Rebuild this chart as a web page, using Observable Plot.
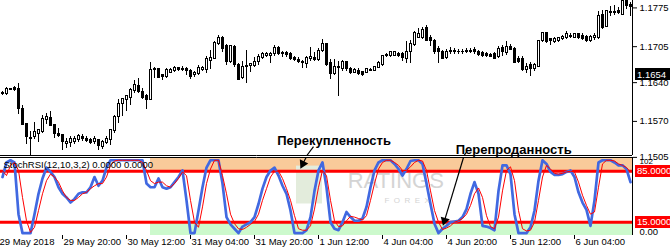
<!DOCTYPE html>
<html><head><meta charset="utf-8">
<script src="https://cdn.jsdelivr.net/npm/d3@7"></script>
<script src="https://cdn.jsdelivr.net/npm/@observablehq/plot@0.6"></script>
<style>
html,body{margin:0;padding:0;background:#fff;}
#chart{position:relative;width:670px;height:251px;overflow:hidden;background:#fff;}
#chart svg{display:block;position:absolute;left:0;}
</style></head><body><div id="chart"></div>
<script>
// ---- EURUSD H1 candles ----
const open = [1.1620,1.1620,1.1626,1.1631,1.1629,1.1593,1.1565,1.1539,1.1541,1.1547,
1.1551,1.1573,1.1576,1.1563,1.1548,1.1546,1.1529,1.1531,1.1533,1.1536,
1.1542,1.1538,1.1537,1.1533,1.1537,1.1523,1.1531,1.1537,1.1553,1.1578,
1.1601,1.1609,1.1613,1.1625,1.1634,1.1623,1.1616,1.1608,1.1663,1.1665,
1.1653,1.1651,1.1658,1.1661,1.1667,1.1665,1.1665,1.1661,1.1653,1.1655,
1.1663,1.1663,1.1680,1.1683,1.1709,1.1720,1.1707,1.1677,1.1705,1.1671,
1.1648,1.1668,1.1670,1.1670,1.1677,1.1684,1.1689,1.1689,1.1691,1.1703,
1.1693,1.1693,1.1691,1.1685,1.1681,1.1678,1.1673,1.1683,1.1684,1.1681,
1.1698,1.1709,1.1675,1.1656,1.1667,1.1665,1.1678,1.1665,1.1658,1.1661,
1.1659,1.1658,1.1661,1.1661,1.1667,1.1671,1.1688,1.1688,1.1689,1.1691,
1.1691,1.1683,1.1695,1.1708,1.1721,1.1721,1.1738,1.1721,1.1715,1.1701,
1.1696,1.1685,1.1696,1.1695,1.1695,1.1696,1.1695,1.1698,1.1699,1.1695,
1.1693,1.1691,1.1690,1.1691,1.1686,1.1703,1.1693,1.1705,1.1701,1.1683,
1.1683,1.1663,1.1671,1.1665,1.1669,1.1715,1.1729,1.1718,1.1713,1.1715,
1.1719,1.1720,1.1723,1.1721,1.1727,1.1725,1.1723,1.1715,1.1720,1.1721,
1.1763,1.1741,1.1766,1.1765,1.1769,1.1763,1.1789,1.1781];
const high = [1.1624,1.1631,1.1630,1.1633,1.1638,1.1598,1.1566,1.1551,1.1568,1.1556,
1.1580,1.1585,1.1588,1.1565,1.1558,1.1547,1.1539,1.1543,1.1543,1.1546,
1.1547,1.1543,1.1539,1.1543,1.1538,1.1535,1.1543,1.1556,1.1581,1.1610,
1.1611,1.1617,1.1629,1.1643,1.1647,1.1629,1.1619,1.1676,1.1667,1.1666,
1.1655,1.1665,1.1666,1.1669,1.1668,1.1669,1.1667,1.1663,1.1660,1.1671,
1.1669,1.1688,1.1698,1.1715,1.1725,1.1723,1.1709,1.1708,1.1708,1.1675,
1.1678,1.1698,1.1675,1.1685,1.1691,1.1695,1.1695,1.1695,1.1707,1.1705,
1.1696,1.1696,1.1695,1.1687,1.1685,1.1680,1.1688,1.1703,1.1695,1.1701,
1.1718,1.1711,1.1681,1.1681,1.1678,1.1680,1.1679,1.1667,1.1665,1.1665,
1.1661,1.1666,1.1665,1.1669,1.1678,1.1689,1.1693,1.1696,1.1696,1.1695,
1.1695,1.1715,1.1716,1.1733,1.1738,1.1739,1.1743,1.1725,1.1718,1.1705,
1.1698,1.1700,1.1703,1.1701,1.1700,1.1700,1.1701,1.1701,1.1703,1.1698,
1.1696,1.1695,1.1693,1.1695,1.1705,1.1708,1.1715,1.1709,1.1703,1.1687,
1.1687,1.1675,1.1676,1.1675,1.1716,1.1731,1.1731,1.1720,1.1721,1.1721,
1.1725,1.1733,1.1729,1.1729,1.1729,1.1728,1.1725,1.1725,1.1728,1.1768,
1.1771,1.1771,1.1778,1.1780,1.1776,1.1796,1.1793,1.1785];
const low = [1.1617,1.1617,1.1625,1.1624,1.1583,1.1563,1.1528,1.1507,1.1537,1.1531,
1.1549,1.1565,1.1560,1.1539,1.1541,1.1517,1.1521,1.1523,1.1528,1.1531,
1.1533,1.1531,1.1528,1.1528,1.1517,1.1520,1.1528,1.1527,1.1549,1.1567,
1.1578,1.1588,1.1599,1.1620,1.1621,1.1610,1.1591,1.1607,1.1648,1.1648,
1.1643,1.1648,1.1656,1.1659,1.1661,1.1660,1.1653,1.1645,1.1650,1.1653,
1.1660,1.1657,1.1663,1.1681,1.1707,1.1695,1.1671,1.1675,1.1668,1.1643,
1.1645,1.1638,1.1658,1.1668,1.1671,1.1681,1.1685,1.1675,1.1688,1.1689,
1.1685,1.1685,1.1680,1.1678,1.1675,1.1665,1.1665,1.1678,1.1678,1.1678,
1.1695,1.1670,1.1645,1.1653,1.1615,1.1660,1.1661,1.1655,1.1656,1.1653,
1.1651,1.1657,1.1660,1.1660,1.1665,1.1669,1.1686,1.1685,1.1688,1.1686,
1.1678,1.1675,1.1675,1.1705,1.1719,1.1718,1.1715,1.1705,1.1691,1.1675,
1.1681,1.1681,1.1691,1.1691,1.1691,1.1691,1.1692,1.1693,1.1691,1.1688,
1.1685,1.1686,1.1685,1.1681,1.1683,1.1688,1.1689,1.1698,1.1675,1.1675,
1.1660,1.1656,1.1651,1.1661,1.1667,1.1713,1.1711,1.1708,1.1711,1.1713,
1.1716,1.1718,1.1720,1.1719,1.1718,1.1716,1.1713,1.1713,1.1717,1.1718,
1.1736,1.1740,1.1760,1.1761,1.1763,1.1761,1.1773,1.1760];
const close = [1.1621,1.1628,1.1628,1.1627,1.1593,1.1564,1.1541,1.1540,1.1550,1.1554,
1.1575,1.1578,1.1561,1.1548,1.1543,1.1533,1.1533,1.1538,1.1539,1.1543,
1.1539,1.1535,1.1531,1.1538,1.1526,1.1533,1.1539,1.1555,1.1578,1.1601,
1.1610,1.1615,1.1627,1.1636,1.1623,1.1613,1.1608,1.1663,1.1665,1.1649,
1.1651,1.1663,1.1663,1.1667,1.1663,1.1663,1.1661,1.1650,1.1658,1.1666,
1.1667,1.1683,1.1685,1.1711,1.1720,1.1701,1.1678,1.1707,1.1671,1.1645,
1.1669,1.1670,1.1673,1.1678,1.1686,1.1691,1.1691,1.1691,1.1703,1.1691,
1.1691,1.1690,1.1683,1.1681,1.1677,1.1675,1.1685,1.1686,1.1681,1.1698,
1.1709,1.1671,1.1656,1.1669,1.1669,1.1678,1.1665,1.1658,1.1663,1.1655,
1.1653,1.1665,1.1663,1.1668,1.1676,1.1688,1.1690,1.1695,1.1695,1.1689,
1.1685,1.1696,1.1709,1.1729,1.1728,1.1736,1.1716,1.1715,1.1695,1.1695,
1.1683,1.1695,1.1698,1.1697,1.1696,1.1695,1.1697,1.1695,1.1695,1.1690,
1.1688,1.1689,1.1687,1.1683,1.1701,1.1695,1.1705,1.1699,1.1676,1.1677,
1.1663,1.1669,1.1665,1.1671,1.1715,1.1729,1.1713,1.1715,1.1718,1.1720,
1.1723,1.1727,1.1725,1.1727,1.1720,1.1718,1.1715,1.1723,1.1725,1.1761,
1.1738,1.1769,1.1768,1.1768,1.1765,1.1788,1.1778,1.1776];

// ---- StochRSI(12,10,3,2) ----
const stochMain = [77,97,100,97,26,0,0,0,26,54,
75,90,84,77,63,54,49,42,47,54,
56,56,63,77,65,72,90,100,100,100,
100,100,100,100,100,100,68,63,63,75,
63,61,63,70,77,86,45,0,0,31,
63,90,100,100,100,68,22,12,6,0,
9,12,15,22,40,61,77,86,90,79,
65,54,31,0,0,0,4,22,58,86,
97,63,15,6,4,15,29,22,17,17,
20,36,63,86,97,100,100,100,95,88,
79,88,99,100,100,95,68,40,13,0,
6,10,15,16,17,22,33,54,70,54,
10,9,7,4,58,93,93,81,26,0,
0,0,8,31,72,100,95,84,80,80,
81,84,86,77,56,42,32,10,45,97,
100,100,100,97,93,93,88,70];
const stochSignal = [86,79,93,97,86,49,17,1,8,31,
54,72,81,77,70,58,49,45,45,49,
54,56,61,65,68,68,77,93,99,100,
100,100,100,100,100,97,86,72,68,70,
70,65,63,68,75,84,79,45,15,8,
36,68,88,100,100,79,54,26,13,6,
5,8,12,16,26,45,61,77,85,85,
75,61,45,24,6,4,4,10,33,63,
86,79,45,17,9,10,17,23,22,20,
18,24,45,68,88,97,100,100,97,93,
86,86,91,97,100,99,86,58,31,15,
5,7,10,15,17,20,26,38,54,62,
49,24,9,6,22,58,86,91,72,31,
6,3,4,15,45,77,93,88,82,81,
82,84,85,84,70,52,38,26,29,63,
95,100,100,99,95,93,90,84];

// ---- axes / labels ----
const priceTicks = [1.1505, 1.1570, 1.1640, 1.1705, 1.1775];
const currentPrice = 1.1654;
const timeTickBars = [-1, 15, 31, 47, 63, 79, 95, 111, 127, 143];
const timeTickLabels = ["29 May 2018","29 May 20:00","30 May 12:00","31 May 04:00","31 May 20:00",
  "1 Jun 12:00","4 Jun 04:00","4 Jun 20:00","5 Jun 12:00","6 Jun 04:00"];
const levels = [85, 15];
const levelLabels = ["85.0000", "15.0000"];
const oscMaxLabel = "102", oscMinLabel = "0.00";
const indicatorTitle = "StochRSI(12,10,3,2) 0.0000 0.0000";
const zoneStartBar = 37;

// ---- annotations ----
const noteText = ["Перекупленность", "Перепроданность"];
const noteBar = [82.9, 127.8];
const notePrice = [1.15344, 1.15184];
const arrowTopBar1 = [77.75, 116], arrowTopPrice1 = [1.15244, 1.15144];
const arrowTopBar2 = [76.1, 115.4];
const arrowBotBar1 = [75.9, 115.25], arrowBotVal1 = [103.8, 103.8];
const arrowBotBar2 = [75.08, 110.5], arrowBotVal2 = [95.2, 17.2];
const arrowAngle = [206.6, 196.8];
const watermark = ["RATINGS", "F  O  R  E  X"];

const FONT = "'Liberation Sans', Arial, sans-serif";
const xDomain = [-0.5, open.length - 0.5];
const priceDomain = [1.15084, 1.17884];
const oscDomain = [-3.25, 103.8];

const bars = open.map((o, i) => ({i, o, h: high[i], l: low[i], c: close[i]}));
const mainPts = stochMain.map((v, i) => ({i, v}));
const sigPts = stochSignal.map((v, i) => ({i, v}));
const notes = noteText.map((t, j) => ({t, x: noteBar[j], y: notePrice[j]}));
const topLinks = arrowTopBar1.map((x1, j) => ({x1, y1: arrowTopPrice1[j], x2: arrowTopBar2[j], y2: priceDomain[0]}));
const botLinks = arrowBotBar1.map((x1, j) => ({x1, y1: arrowBotVal1[j], x2: arrowBotBar2[j], y2: arrowBotVal2[j], a: arrowAngle[j]}));
const timeTicks = timeTickBars.map((k, j) => ({k, label: timeTickLabels[j]}));

const chart = document.getElementById("chart");

const topPlot = Plot.plot({
  width: 670, height: 156,
  marginLeft: 0, marginRight: 38, marginTop: 0, marginBottom: 1,
  style: {fontFamily: FONT, fontSize: "9.5px", color: "black", background: "transparent", overflow: "visible"},
  x: {domain: xDomain, axis: null},
  y: {domain: priceDomain, axis: "right", ticks: priceTicks, tickFormat: d => d.toFixed(4), tickSize: 4, tickPadding: 3, label: null},
  marks: [
    Plot.rect(bars, {x1: d => d.i - 0.125, x2: d => d.i + 0.125, y1: "l", y2: "h", fill: "black", shapeRendering: "crispEdges"}),
    Plot.rect(bars, {x1: d => d.i - 0.375, x2: d => d.i + 0.375, y1: "o", y2: "c", fill: "black", insetTop: -0.5, insetBottom: -0.5, shapeRendering: "crispEdges"}),
    Plot.rect(bars.filter(d => d.c > d.o), {x1: d => d.i - 0.375, x2: d => d.i + 0.375, y1: "o", y2: "c", fill: "white", insetLeft: 1, insetRight: 1, insetTop: 0.5, insetBottom: 0.5, shapeRendering: "crispEdges"}),
    Plot.text(notes, {x: "x", y: "y", text: "t", fontWeight: "bold", fontSize: 13, fill: "black", style: "letter-spacing:0.7px"}),
    Plot.link(topLinks, {x1: "x1", y1: "y1", x2: "x2", y2: "y2", stroke: "black", strokeWidth: 1.2}),
    Plot.ruleY([priceDomain[0]], {stroke: "black"}),
    Plot.ruleX([xDomain[1]], {stroke: "black"})
  ]
});
topPlot.style.top = "0px";
chart.appendChild(topPlot);

const botPlot = Plot.plot({
  width: 670, height: 95,
  marginLeft: 0, marginRight: 38, marginTop: 1, marginBottom: 16,
  style: {fontFamily: FONT, fontSize: "9.5px", color: "black", background: "transparent", overflow: "visible"},
  x: {domain: xDomain, axis: "bottom", ticks: timeTickBars, tickFormat: () => "", tickSize: 4, label: null},
  y: {domain: oscDomain, axis: null},
  marks: [
    Plot.rect([{y1: levels[0], y2: oscDomain[1], f: "#F9CA9A"}, {y1: oscDomain[0], y2: levels[1], f: "#CCF9CC"}],
      {x1: zoneStartBar, x2: xDomain[1], y1: "y1", y2: "y2", fill: "f"}),
    Plot.rect([0], {x1: 73.5, x2: 80, y1: 40, y2: 92, fill: "#e3ecdc"}),
    Plot.text([watermark[0]], {x: 86.3, y: 72, text: d => d, textAnchor: "start", fontSize: 22, fill: "#d4d4d4", style: "letter-spacing:2.5px"}),
    Plot.text([watermark[1]], {x: 95.5, y: 45, text: d => d, textAnchor: "start", fontSize: 8, fill: "#d4d4d4", style: "letter-spacing:2px"}),
    Plot.ruleY(levels, {stroke: "#ff0000", strokeWidth: 3}),
    Plot.line(mainPts, {x: "i", y: "v", stroke: "#4169E1", strokeWidth: 2.7}),
    Plot.line(sigPts, {x: "i", y: "v", stroke: "#ff0000", strokeWidth: 1}),
    Plot.text([indicatorTitle], {frameAnchor: "top-left", text: d => d, dx: 3, dy: 4, fill: "black"}),
    Plot.link(botLinks, {x1: "x1", y1: "y1", x2: "x2", y2: "y2", stroke: "black", strokeWidth: 1.2}),
    Plot.dot(botLinks, {x: "x2", y: "y2", symbol: "triangle", r: 3.5, fill: "black", rotate: "a"}),
    Plot.ruleY([oscDomain[1]], {stroke: "black"}),
    Plot.ruleX([xDomain[1]], {stroke: "black"}),
    Plot.text(timeTicks, {x: "k", frameAnchor: "bottom", text: "label", textAnchor: "start", dx: 1, dy: 9, fill: "black"}),
    Plot.text([oscMaxLabel], {y: oscDomain[1], frameAnchor: "right", text: d => d, textAnchor: "start", lineAnchor: "middle", fontSize: 8, dx: 7, dy: 4, fill: "black"}),
    Plot.text([oscMinLabel], {y: oscDomain[0], frameAnchor: "right", text: d => d, textAnchor: "start", lineAnchor: "bottom", dx: 7, dy: -1, fill: "black"})
  ]
});
botPlot.style.top = "156px";
chart.appendChild(botPlot);

// value boxes in the right-hand scale area, placed with the plots' own y scales
function valueBox(plot, value, label, fill) {
  const y = plot.scale("y").apply(value);
  const g = d3.select(plot).append("g").attr("font-family", FONT).attr("font-size", "9.5px").attr("text-anchor", "start");
  g.append("rect").attr("x", 635).attr("y", Math.round(y) - 6).attr("width", 35).attr("height", 12).attr("fill", fill);
  g.append("text").attr("x", 637).attr("y", y).attr("dy", "0.35em").attr("fill", "white").attr("text-anchor", "start").text(label);
}
valueBox(topPlot, currentPrice, currentPrice.toFixed(4), "black");
levels.forEach((v, j) => valueBox(botPlot, v, levelLabels[j], "#ff0000"));
</script></body></html>
